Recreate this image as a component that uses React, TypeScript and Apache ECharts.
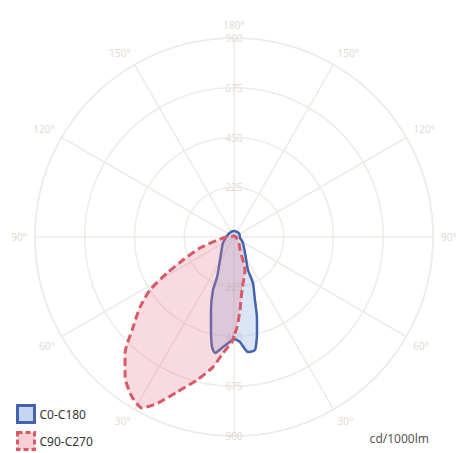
import React, { useEffect, useRef } from "react";
import * as echarts from "echarts";

// C0-C180 plane: angle (deg, 0 = straight down, increasing toward the left) and intensity (cd/1000lm)
const c0Angles = [0, 5.7, 9.3, 11.3, 13.9, 17.5, 21.6, 23, 31.3, 61.4, 90, 120, 150, 180, 210, 240, 279.5, 300, 325.5, 337, 337.6, 341.6, 344, 346.5, 349.5, 353.1, 356.7, 360];
const c0Values = [460, 500, 532, 507, 433, 346, 258, 195, 122, 57, 35, 28, 27, 27, 27, 28, 28, 45, 88, 162, 225, 300, 376, 446, 520, 524, 476, 460];

// C90-C270 plane
const c90Angles = [0, 1.1, 5.4, 9.2, 14.5, 20.2, 24.6, 28.3, 32.5, 37.9, 43.2, 47.6, 53.3, 57.8, 61.7, 65.7, 72.1, 79.4, 90, 100, 130, 180, 230, 270, 300, 320, 335, 341.6, 351.4, 355.3, 358, 360];
const c90Values = [447, 475, 527, 596, 668, 747, 826, 878, 858, 802, 720, 624, 530, 449, 344, 253, 162, 74, 35, 14, 6, 5, 6, 8, 15, 35, 65, 157, 242, 331, 407, 447];

const seriesNames = ["C0-C180", "C90-C270"];
const radiusMax = 900;
const radiusStep = 225;
const angleStep = 30;
const unitLabel = "cd/1000lm";

const FONT = "'Noto Sans', 'DejaVu Sans', sans-serif";
const GRID = "#efebe7";
const FAINT = "#e2dad3";

export default function App() {
  const ref = useRef<HTMLDivElement>(null);
  useEffect(() => {
    if (!ref.current) return;
    const chart = echarts.init(ref.current, null, { renderer: "svg" });
    const pairs = (a: number[], v: number[]) => a.map((ang, i) => [v[i], ang]);
    const center = [234, 237];
    const radius = 199;
    const radLabel = {
      show: true,
      color: FAINT,
      fontSize: 10,
      lineHeight: 10,
      fontFamily: FONT,
      margin: 0,
      align: "center",
      verticalAlign: "middle",
      formatter: (v: number) => (v === 0 ? "" : String(v)),
    };
    chart.setOption({
      animation: false,
      textStyle: { fontFamily: FONT },
      title: {
        text: unitLabel,
        right: 22,
        bottom: 4,
        textStyle: { fontSize: 12, fontWeight: "normal", color: "#555", fontFamily: FONT },
      },
      polar: [
        { center, radius },
        { center, radius },
      ],
      angleAxis: [
        {
          polarIndex: 0,
          type: "value",
          min: 0,
          max: 360,
          interval: angleStep,
          startAngle: 270,
          clockwise: true,
          axisLine: { show: true, lineStyle: { color: GRID, width: 1.5 } },
          axisTick: { show: false },
          splitLine: { show: true, lineStyle: { color: GRID, width: 1.5 } },
          axisLabel: {
            show: true,
            color: FAINT,
            fontSize: 10,
            lineHeight: 10,
            fontFamily: FONT,
            margin: 8,
            formatter: (v: number) =>
              v >= 360 || v === 0 ? "" : (v > 180 ? 360 - v : v) + "°",
          },
        },
        {
          polarIndex: 1,
          type: "value",
          min: 0,
          max: 360,
          startAngle: 90,
          show: false,
        },
      ],
      radiusAxis: [
        {
          polarIndex: 0,
          min: 0,
          max: radiusMax,
          interval: radiusStep,
          axisLine: { show: false },
          axisTick: { show: false },
          splitLine: { show: true, lineStyle: { color: GRID, width: 1.5 } },
          axisLabel: radLabel,
          z: 1,
        },
        {
          polarIndex: 1,
          min: 0,
          max: radiusMax,
          interval: radiusStep,
          axisLine: { show: false },
          axisTick: { show: false },
          splitLine: { show: false },
          axisLabel: radLabel,
        },
      ],
      legend: {
        orient: "vertical",
        left: 16,
        top: 404,
        padding: 0,
        itemWidth: 17,
        itemHeight: 17,
        itemGap: 7,
        textStyle: { fontSize: 12, color: "#333", fontFamily: FONT },
        data: [
          {
            name: seriesNames[0],
            icon: "rect",
            itemStyle: { color: "rgba(160,185,230,0.6)", borderColor: "#4563ad", borderWidth: 3 },
          },
          {
            name: seriesNames[1],
            icon: "rect",
            itemStyle: {
              color: "rgba(235,150,165,0.45)",
              borderColor: "#d95a66",
              borderWidth: 3,
              borderType: [5, 3],
            },
          },
        ],
      },
      series: [
        {
          name: seriesNames[0],
          type: "line",
          coordinateSystem: "polar",
          polarIndex: 0,
          data: pairs(c0Angles, c0Values),
          showSymbol: false,
          smooth: 0.2,
          itemStyle: { color: "#4563ad" },
          lineStyle: { color: "#4563ad", width: 2.5 },
          areaStyle: { color: "rgba(150,180,230,0.5)" },
          z: 2,
        },
        {
          name: seriesNames[1],
          type: "line",
          coordinateSystem: "polar",
          polarIndex: 0,
          data: pairs(c90Angles, c90Values),
          showSymbol: false,
          smooth: 0.2,
          itemStyle: { color: "#d95a66" },
          lineStyle: { color: "#d95a66", width: 3, type: [8, 4] },
          areaStyle: { color: "rgba(230,120,140,0.38)" },
          z: 3,
        },
      ],
    });
    return () => chart.dispose();
  }, []);
  return (
    <div
      ref={ref}
      style={{ position: "absolute", left: 0, top: 0, width: 456, height: 453 }}
    />
  );
}
